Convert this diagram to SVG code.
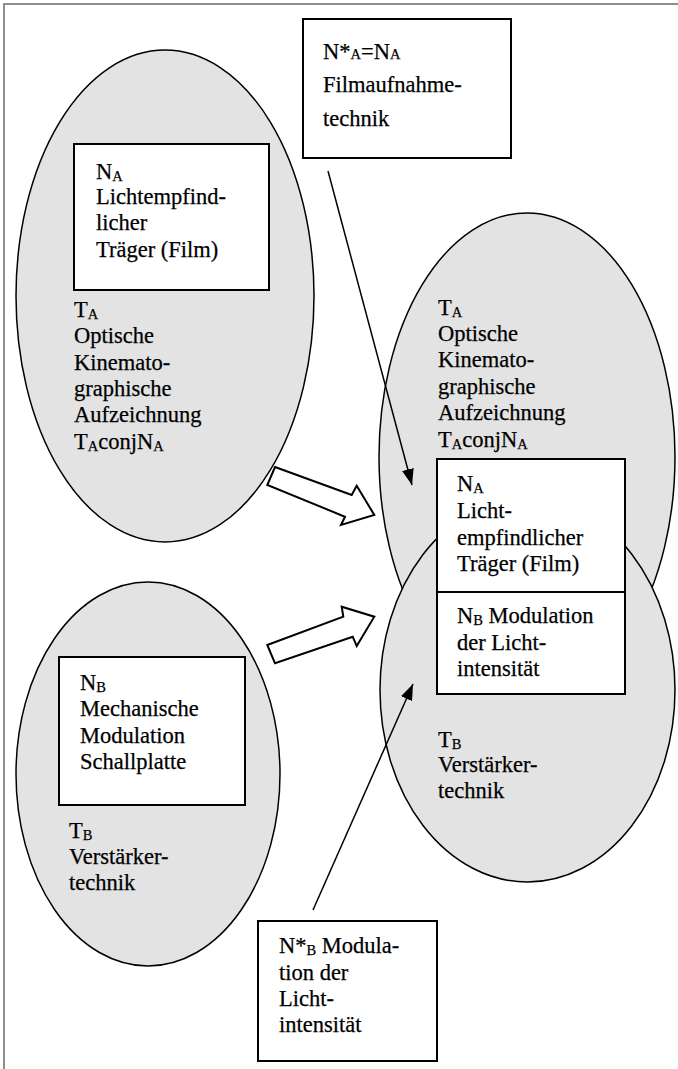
<svg xmlns="http://www.w3.org/2000/svg" width="678" height="1069" viewBox="0 0 678 1069" font-family="'Liberation Serif', 'Times New Roman', Times, 'DejaVu Serif', serif">
  <style>
    .frame { fill: #ffffff; stroke: #6a6a6a; stroke-width: 1.5; }
    .oval { fill: #e3e3e3; stroke: #000000; stroke-width: 1.5; }
    .box { fill: #ffffff; stroke: #000000; stroke-width: 2; }
    .block { fill: #ffffff; stroke: #000000; stroke-width: 2; stroke-linejoin: miter; }
    .conn { fill: none; stroke: #000000; stroke-width: 1.5; }
    .lbl text { font-family: 'Liberation Serif', 'Times New Roman', Times, 'DejaVu Serif', serif; font-size: 22.5px; fill: #000000; stroke: #000000; stroke-width: 0.25; }
    .sub { font-size: 14.5px; }
  </style>
  <defs>
    <marker id="head" viewBox="0 -6 16 12" markerWidth="16" markerHeight="12" refX="16" refY="0" orient="auto" markerUnits="userSpaceOnUse">
      <path d="M0,-6 L16,0 L0,6 Z" fill="#000000"/>
    </marker>
  </defs>

  <!-- page border -->
  <rect class="frame" x="4" y="4" width="720" height="1120"/>

  <!-- technology A (left) -->
  <g id="tech-a-left" class="lbl">
    <ellipse class="oval" cx="165" cy="296" rx="149" ry="246"/>
    <text x="74" y="317">T<tspan class="sub" dy="2">A</tspan></text>
    <text x="74" y="343">Optische</text>
    <text x="74" y="370">Kinemato-</text>
    <text x="74" y="396">graphische</text>
    <text x="74" y="422">Aufzeichnung</text>
    <text x="74" y="449">T<tspan class="sub" dy="2">A</tspan><tspan dy="-2">conjN</tspan><tspan class="sub" dy="2">A</tspan></text>
  </g>
  <g id="norm-a-left" class="lbl">
    <rect class="box" x="74" y="144" width="195" height="146"/>
    <text x="96" y="179">N<tspan class="sub" dy="2">A</tspan></text>
    <text x="96" y="204">Lichtempfind-</text>
    <text x="96" y="230">licher</text>
    <text x="96" y="257">Träger (Film)</text>
  </g>

  <!-- imported norm A -->
  <g id="norm-a-star" class="lbl">
    <rect class="box" x="303" y="19" width="208" height="139"/>
    <text x="323" y="59">N*<tspan class="sub">A</tspan>=N<tspan class="sub">A</tspan></text>
    <text x="323" y="92">Filmaufnahme-</text>
    <text x="323" y="126">technik</text>
  </g>

  <!-- technology B (left) -->
  <g id="tech-b-left" class="lbl">
    <ellipse class="oval" cx="148" cy="774" rx="132" ry="192"/>
    <text x="69" y="838">T<tspan class="sub" dy="2">B</tspan></text>
    <text x="69" y="864">Verstärker-</text>
    <text x="69" y="890">technik</text>
  </g>
  <g id="norm-b-left" class="lbl">
    <rect class="box" x="59" y="657" width="186" height="148"/>
    <text x="80" y="690">N<tspan class="sub" dy="2">B</tspan></text>
    <text x="80" y="716">Mechanische</text>
    <text x="80" y="743">Modulation</text>
    <text x="80" y="769">Schallplatte</text>
  </g>

  <!-- combined technology A (right) -->
  <g id="tech-a-right" class="lbl">
    <ellipse class="oval" cx="527" cy="457" rx="148" ry="244"/>
    <text x="438" y="315">T<tspan class="sub" dy="2">A</tspan></text>
    <text x="438" y="341">Optische</text>
    <text x="438" y="367">Kinemato-</text>
    <text x="438" y="394">graphische</text>
    <text x="438" y="420">Aufzeichnung</text>
    <text x="438" y="447">T<tspan class="sub" dy="2">A</tspan><tspan dy="-2">conjN</tspan><tspan class="sub" dy="2">A</tspan></text>
  </g>

  <!-- combined technology B (right) -->
  <g id="tech-b-right" class="lbl">
    <ellipse class="oval" cx="527.5" cy="690" rx="147.5" ry="192"/>
    <text x="438" y="747">T<tspan class="sub" dy="2">B</tspan></text>
    <text x="438" y="772">Verstärker-</text>
    <text x="438" y="798">technik</text>
  </g>

  <!-- combined norms -->
  <g id="norm-ab-right" class="lbl">
    <rect class="box" x="437" y="459" width="188" height="235"/>
    <line class="box" x1="437" y1="592" x2="625" y2="592"/>
    <text x="457" y="491">N<tspan class="sub" dy="2">A</tspan></text>
    <text x="457" y="518">Licht-</text>
    <text x="457" y="545">empfindlicher</text>
    <text x="457" y="571">Träger (Film)</text>
    <text x="457" y="623">N<tspan class="sub" dy="2">B</tspan><tspan dy="-2"> Modulation</tspan></text>
    <text x="457" y="650">der Licht-</text>
    <text x="457" y="676">intensität</text>
  </g>

  <!-- imported norm B -->
  <g id="norm-b-star" class="lbl">
    <rect class="box" x="258" y="921" width="179" height="140"/>
    <text x="279" y="953">N*<tspan class="sub" dy="2">B</tspan><tspan dy="-2"> Modula-</tspan></text>
    <text x="279" y="980">tion der</text>
    <text x="279" y="1006">Licht-</text>
    <text x="279" y="1032">intensität</text>
  </g>

  <!-- connectors -->
  <g id="connectors">
    <polygon class="block" points="275,467 351.7,495 356.7,485.7 374.3,515 341,525 345,516.7 267.3,485"/>
    <polygon class="block" points="267.3,645 343.3,616.7 341.7,606.7 374.3,616.7 356.7,646 352.7,636.7 275,663.3"/>
    <line class="conn" x1="328" y1="171" x2="412" y2="485" marker-end="url(#head)"/>
    <line class="conn" x1="313" y1="910" x2="413" y2="684" marker-end="url(#head)"/>
  </g>
</svg>
